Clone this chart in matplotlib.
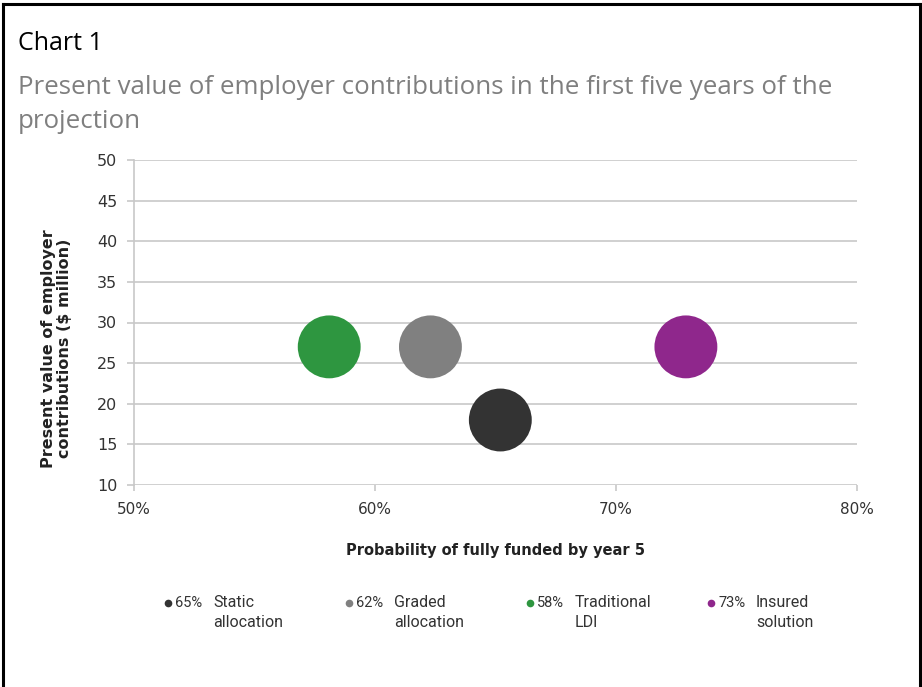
import matplotlib
matplotlib.use("Agg")
import matplotlib.pyplot as plt

# Data
names = ["Static\nallocation", "Graded\nallocation", "Traditional\nLDI", "Insured\nsolution"]
legend_pct = ["65%", "62%", "58%", "73%"]
prob = [65.2, 62.3, 58.1, 72.9]          # probability of fully funded by year 5 (%)
pv = [18, 27, 27, 27]                    # present value of employer contributions ($ million)
colors = ["#333333", "#808080", "#2e9640", "#8f278c"]
x_ticks = [50, 60, 70, 80]
x_ticklabels = ["50%", "60%", "70%", "80%"]
y_ticks = [10, 15, 20, 25, 30, 35, 40, 45, 50]

W, H = 922, 687
fig = plt.figure(figsize=(W / 100, H / 100), dpi=100)
fig.patch.set_facecolor("white")

# outer frame (top, left, right)
fig.add_artist(plt.Line2D([2.5 / W, 2.5 / W], [0, 1 - 3.5 / H], color="black", lw=2.2, transform=fig.transFigure))
fig.add_artist(plt.Line2D([1 - 2.5 / W, 1 - 2.5 / W], [0, 1 - 3.5 / H], color="black", lw=2.2, transform=fig.transFigure))
fig.add_artist(plt.Line2D([2.5 / W, 1 - 2.5 / W], [1 - 3.5 / H, 1 - 3.5 / H], color="black", lw=2.2, transform=fig.transFigure))

fig.text(18 / W, 1 - 44 / H, "Chart 1", fontsize=18, color="black", va="center", ha="left", family="Open Sans")
fig.text(18 / W, 1 - 87 / H, "Present value of employer contributions in the first five years of the",
         fontsize=18.6, color="#7f7f7f", va="center", ha="left", family="Open Sans")
fig.text(18 / W, 1 - 121 / H, "projection", fontsize=18.6, color="#7f7f7f", va="center", ha="left",
         family="Open Sans")

left, right, top, bottom = 134, 857, 160, 485
ax = fig.add_axes([left / W, 1 - bottom / H, (right - left) / W, (bottom - top) / H])
ax.set_xlim(50, 80)
ax.set_ylim(10, 50)
ax.set_yticks(y_ticks)
ax.set_xticks(x_ticks)
ax.set_xticklabels(x_ticklabels)
ax.grid(axis="y", color="#c8c8c8", lw=1.2)
ax.set_axisbelow(True)
for s in ["top", "right", "bottom"]:
    ax.spines[s].set_visible(False)
ax.spines["left"].set_color("#c8c8c8")
ax.spines["left"].set_linewidth(1.2)
ax.tick_params(axis="y", length=5, color="#c8c8c8", width=1.2, labelsize=11.5, labelcolor="#333333", pad=7)
ax.tick_params(axis="x", length=4, color="#c8c8c8", width=1.2, labelsize=11, labelcolor="#333333", pad=8)
for lab in ax.get_xticklabels() + ax.get_yticklabels():
    lab.set_family("DejaVu Sans")

ax.scatter(prob, pv, s=2050, c=colors, edgecolors="none", zorder=3, clip_on=False)

ax.set_xlabel("Probability of fully funded by year 5", fontsize=10.5, fontweight="bold",
              color="#222222", labelpad=19, family="DejaVu Sans")
ax.set_ylabel("Present value of employer\ncontributions ($ million)", fontsize=11.5, fontweight="bold",
              color="#222222", linespacing=1.1, family="DejaVu Sans")
ax.yaxis.set_label_coords(-0.086, 0.42)

# manual legend
marker_x = [168, 349, 530, 711]
for mx, pct, name, col in zip(marker_x, legend_pct, names, colors):
    fig.add_artist(plt.Line2D([mx / W], [1 - 603 / H], marker="o", ms=5.5, color=col, mec="none",
                              transform=fig.transFigure))
    fig.text((mx + 7) / W, 1 - 603 / H, pct, fontsize=10.5, color="#333333", va="center", ha="left",
             family="Roboto")
    fig.text((mx + 45) / W, 1 - 595 / H, name, fontsize=11.5, color="#333333", va="top", ha="left",
             family="Roboto", linespacing=1.45)

fig.savefig("out.png", dpi=100, facecolor="white")
